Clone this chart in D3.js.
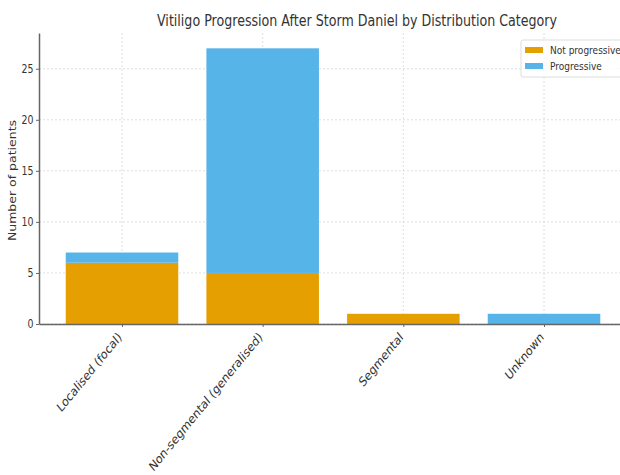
<!DOCTYPE html>
<html><head><meta charset="utf-8">
<script src="https://cdn.jsdelivr.net/npm/d3@7"></script>
<style>body{margin:0;background:#fff}svg{display:block}</style>
</head><body><svg id="c" width="620" height="475"></svg>
<script>
const categories = ["Localised (focal)", "Non-segmental (generalised)", "Segmental", "Unknown"];
const notProgressive = [6, 5, 1, 0];
const progressive = [1, 22, 0, 1];
const seriesNames = ["Not progressive", "Progressive"];
const yTicks = [0, 5, 10, 15, 20, 25];
const colors = ["#E69F00", "#56B4E9"];

(function () {
const svg = d3.select("#c");
const font = "DejaVu Sans, sans-serif";
const sx = 0.82; // horizontal squeeze of the reference's text
const mL = 39, mR = 627, mT = 33, mB = 324;

const x = d3.scaleLinear().domain([-0.59, 3.59]).range([mL, mR]);
const y = d3.scaleLinear().domain([0, 28.5]).range([mB, mT]);

// grid
const g = svg.append("g");
g.selectAll(".hg").data(yTicks).join("line")
  .attr("x1", mL).attr("x2", mR).attr("y1", d => y(d)).attr("y2", d => y(d))
  .attr("stroke", "#d6d6d6").attr("stroke-width", 0.8).attr("stroke-dasharray", "2,2");
g.selectAll(".vg").data(categories).join("line")
  .attr("x1", (d, i) => x(i)).attr("x2", (d, i) => x(i)).attr("y1", mT).attr("y2", mB)
  .attr("stroke", "#d6d6d6").attr("stroke-width", 0.8).attr("stroke-dasharray", "2,2");

// bars
const bw = x(0.8) - x(0);
const stack = categories.map((c, i) => ({ i, a: notProgressive[i], b: progressive[i] }));
svg.selectAll(".b1").data(stack).join("rect")
  .attr("x", d => x(d.i) - bw / 2).attr("width", bw)
  .attr("y", d => y(d.a)).attr("height", d => y(0) - y(d.a))
  .attr("fill", colors[0]);
svg.selectAll(".b2").data(stack).join("rect")
  .attr("x", d => x(d.i) - bw / 2).attr("width", bw)
  .attr("y", d => y(d.a + d.b)).attr("height", d => y(d.a) - y(d.a + d.b))
  .attr("fill", colors[1]);

// axes
const yAxis = d3.axisLeft(y).tickValues(yTicks).tickSize(3).tickSizeOuter(0);
const ya = svg.append("g").attr("transform", `translate(${mL},0)`).call(yAxis);
ya.select(".domain").attr("stroke", "#666").attr("stroke-width", 1.5);
ya.selectAll(".tick line").attr("stroke", "#666");
ya.selectAll("text").attr("font-family", font).attr("font-size", 11.5).attr("fill", "#333")
  .attr("x", -5.5 / sx).attr("transform", `scale(${sx},1)`);

const xAxis = d3.axisBottom(x).tickValues(d3.range(categories.length)).tickFormat(i => categories[i]).tickSize(3).tickSizeOuter(0);
const xa = svg.append("g").attr("transform", `translate(0,${mB})`).call(xAxis);
xa.select(".domain").attr("stroke", "#666").attr("stroke-width", 1.5);
xa.selectAll(".tick line").attr("stroke", "#666");
xa.selectAll("text").attr("font-family", font).attr("font-size", 13).attr("fill", "#333")
  .attr("text-anchor", "end").attr("dy", 0)
  .attr("transform", `translate(0,14) scale(${sx},1) rotate(-45)`).attr("x", 0).attr("y", 0);

// title
svg.append("text").attr("transform", `translate(357,26) scale(${sx},1)`).attr("text-anchor", "middle")
  .attr("font-family", font).attr("font-size", 16).attr("fill", "#333")
  .attr("textLength", 400 / sx).attr("lengthAdjust", "spacingAndGlyphs")
  .text("Vitiligo Progression After Storm Daniel by Distribution Category");

// y label
svg.append("text").attr("transform", `translate(16,${(mT + mB) / 2 + 2}) scale(${sx},1) rotate(-90)`)
  .attr("text-anchor", "middle").attr("font-family", font).attr("font-size", 12.5).attr("fill", "#333")
  .text("Number of patients");

// legend
const lg = svg.append("g").attr("transform", "translate(521,40)");
lg.append("rect").attr("width", 110).attr("height", 37).attr("rx", 2)
  .attr("fill", "#fff").attr("fill-opacity", 0.8).attr("stroke", "#ddd");
seriesNames.forEach((s, i) => {
  lg.append("rect").attr("x", 4).attr("y", 7 + i * 16).attr("width", 18).attr("height", 6).attr("fill", colors[i]);
  lg.append("text").attr("transform", `translate(29,${13.5 + i * 16}) scale(${sx},1)`)
    .attr("font-family", font).attr("font-size", 11)
    .attr("fill", "#333").text(s);
});
})();
</script></body></html>
